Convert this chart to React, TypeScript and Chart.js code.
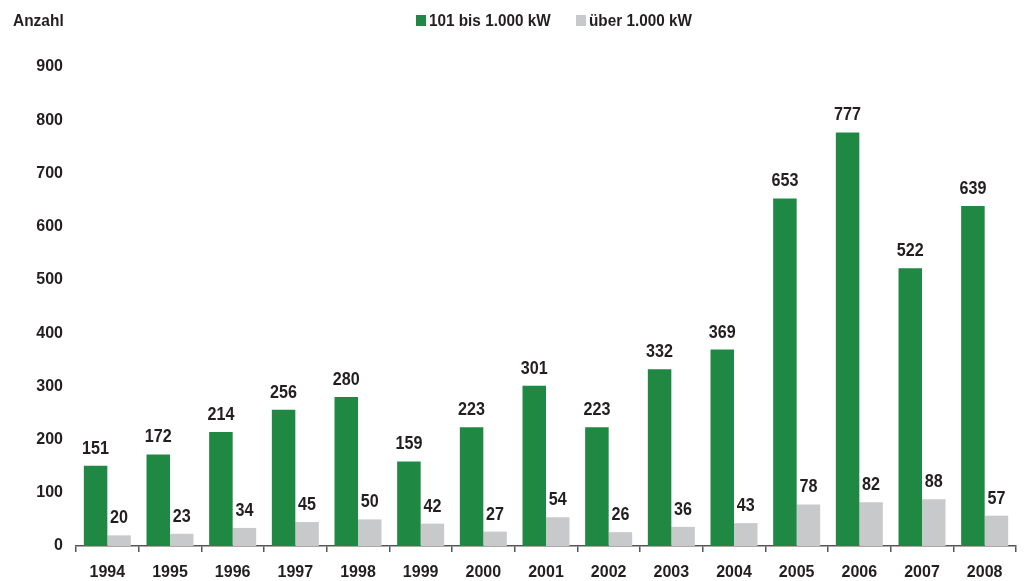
import React, { useEffect, useRef } from "react";
import { Chart, registerables } from "chart.js";

Chart.register(...registerables);

const years = ["1994", "1995", "1996", "1997", "1998", "1999", "2000", "2001", "2002", "2003", "2004", "2005", "2006", "2007", "2008"];
const mid = [151, 172, 214, 256, 280, 159, 223, 301, 223, 332, 369, 653, 777, 522, 639];
const large = [20, 23, 34, 45, 50, 42, 27, 54, 26, 36, 43, 78, 82, 88, 57];
const seriesNames = ["101 bis 1.000 kW", "über 1.000 kW"];
const yAxisTitle = "Anzahl";

const GREEN = "#1f8943";
const GREY = "#c8c9cb";
const TEXT = "#231f20";
const FONT = "'Liberation Sans', Arial, sans-serif";

function narrowText(ctx: any, text: string, x: number, y: number, sx: number) {
  ctx.save();
  ctx.translate(x, y);
  ctx.scale(sx, 1);
  ctx.fillText(text, 0, 0);
  ctx.restore();
}

const overlayPlugin = {
  id: "overlay",
  afterDatasetsDraw(chart: any) {
    const ctx = chart.ctx;
    ctx.save();
    // value labels
    ctx.fillStyle = TEXT;
    ctx.font = `bold 19px ${FONT}`;
    ctx.textAlign = "center";
    ctx.textBaseline = "alphabetic";
    chart.data.datasets.forEach((ds: any, di: number) => {
      const meta = chart.getDatasetMeta(di);
      meta.data.forEach((bar: any, i: number) => {
        narrowText(ctx, String(ds.data[i]), bar.x, bar.y - 12, 0.85);
      });
    });
    // axis title
    ctx.font = `bold 17px ${FONT}`;
    ctx.textAlign = "left";
    ctx.textBaseline = "middle";
    narrowText(ctx, yAxisTitle, 13, 21, 0.91);
    // legend
    const items = [
      { x: 416, color: GREEN, label: seriesNames[0] },
      { x: 576, color: GREY, label: seriesNames[1] },
    ];
    items.forEach((it) => {
      ctx.fillStyle = it.color;
      ctx.fillRect(it.x, 15, 10, 11);
      ctx.fillStyle = TEXT;
      narrowText(ctx, it.label, it.x + 13, 21, 0.9);
    });
    ctx.restore();
  },
};

export default function App() {
  const ref = useRef<HTMLCanvasElement | null>(null);
  useEffect(() => {
    if (!ref.current) return;
    const chart = new Chart(ref.current, {
      type: "bar",
      data: {
        labels: years,
        datasets: [
          { label: seriesNames[0], data: mid, backgroundColor: GREEN, categoryPercentage: 0.75, barPercentage: 1 },
          { label: seriesNames[1], data: large, backgroundColor: GREY, categoryPercentage: 0.75, barPercentage: 1 },
        ],
      },
      options: {
        animation: false,
        responsive: true,
        maintainAspectRatio: false,
        layout: { padding: { top: 67, right: 8, left: 0, bottom: 0 } },
        plugins: { legend: { display: false }, tooltip: { enabled: false } },
        scales: {
          x: {
            afterFit: (s: any) => { s.height = 35; },
            grid: { display: true, drawOnChartArea: false, offset: true, tickLength: 6, color: "#555", lineWidth: 1.5 },
            border: { display: true, color: "#555", width: 1.5 },
            ticks: { color: TEXT, font: { family: FONT, size: 16, weight: "bold" }, padding: 11, maxRotation: 0 },
          },
          y: {
            min: 0,
            max: 900,
            afterFit: (s: any) => { s.width = 76; },
            grid: { display: false, drawTicks: false },
            border: { display: false },
            ticks: { stepSize: 100, color: TEXT, font: { family: FONT, size: 16, weight: "bold" }, padding: 13 },
          },
        },
      },
      plugins: [overlayPlugin],
    });
    return () => chart.destroy();
  }, []);
  return (
    <div style={{ position: "absolute", left: 0, top: 0, width: 1024, height: 581, background: "#fff" }}>
      <canvas ref={ref} />
    </div>
  );
}
